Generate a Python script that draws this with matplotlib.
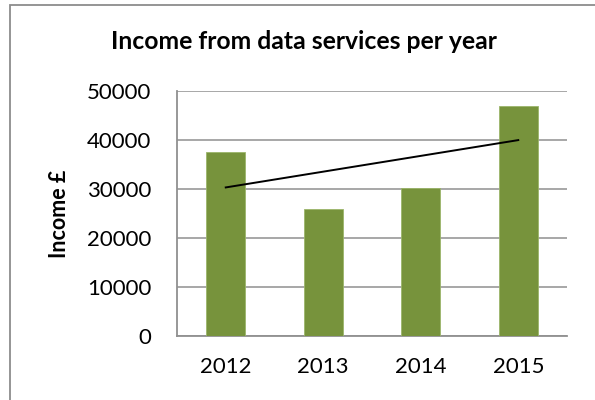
import matplotlib.pyplot as plt
import numpy as np
from matplotlib.patches import Rectangle

plt.rcParams['font.family'] = ['Lato', 'DejaVu Sans']

years = ['2012', '2013', '2014', '2015']
income = [37600, 25900, 30200, 46900]
yticks = [0, 10000, 20000, 30000, 40000, 50000]

W, H = 595, 400
fig = plt.figure(figsize=(W / 100, H / 100), dpi=100)
# plot area in pixels: x 177..567, y 91..336
ax = fig.add_axes([177 / W, 1 - 336 / H, 390 / W, 245 / H])

x = np.arange(len(years))
ax.bar(x, income, width=0.4, color='#77933C', edgecolor='#9BB56A', linewidth=0.6, zorder=3)

# linear trendline
k, b = np.polyfit(x, income, 1)
ax.plot([x[0], x[-1]], [k * x[0] + b, k * x[-1] + b], color='black', linewidth=1.4, zorder=4)

ax.set_xlim(-0.5, 3.5)
ax.set_ylim(0, 50000)
ax.set_yticks(yticks)
ax.set_yticklabels([str(v) for v in yticks])
ax.set_xticks(x)
ax.set_xticklabels(years)
ax.tick_params(axis='both', length=0, labelsize=16, colors='black')
ax.tick_params(axis='y', pad=18.5)
ax.tick_params(axis='x', pad=15)
ax.grid(axis='y', color='#A0A0A0', linewidth=1.3, zorder=0)

for side in ['top', 'right']:
    ax.spines[side].set_visible(False)
for side in ['left', 'bottom']:
    ax.spines[side].set_color('#909090')
    ax.spines[side].set_linewidth(1.3)

fig.text(60 / W, 1 - 214 / H, 'Income £', rotation=90, fontsize=15.5,
         fontweight='bold', ha='center', va='center')
fig.text(303.5 / W, 1 - 49.3 / H, 'Income from data services per year',
         fontsize=17.8, fontweight='bold', ha='center', va='baseline')

# chart frame
fig.patches.append(Rectangle((10 / W, -0.1), 1.2, 1 - 5 / H + 0.1, transform=fig.transFigure,
                             fill=False, edgecolor='#8C8C8C', linewidth=1.3))

fig.savefig('out.png', dpi=100)
